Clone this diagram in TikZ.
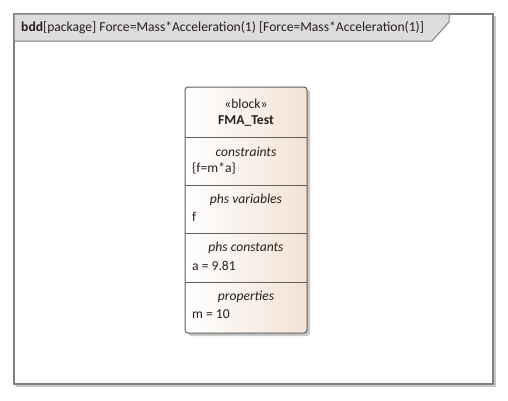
\documentclass[tikz,border=0pt]{standalone}
\usepackage{fontspec}
\setmainfont{Carlito}
\usetikzlibrary{positioning, calc}
\definecolor{framecolor}{RGB}{128,128,128}
\definecolor{shadowcolor}{RGB}{200,200,200}
\definecolor{headcolor}{RGB}{220,220,220}
\definecolor{blockcolor}{RGB}{242,226,212}
\definecolor{boxborder}{RGB}{96,96,96}
\definecolor{textcolor}{RGB}{40,30,30}
\tikzset{
    framebox/.style={draw=framecolor, line width=1.2pt},
    headtab/.style={draw=framecolor, line width=1pt, fill=headcolor},
    blockbox/.style={draw=boxborder, rounded corners=3pt, line width=1pt,
        left color=white, right color=blockcolor},
    sep/.style={draw=boxborder, line width=0.8pt},
    title/.style={font=\fontsize{13.6}{16}\selectfont, text=textcolor, inner sep=0pt},
    label/.style={font=\fontsize{13.6}{16}\selectfont\itshape, text=textcolor, inner sep=0pt},
    entry/.style={font=\fontsize{13.6}{16}\selectfont, text=textcolor, inner sep=0pt, anchor=west}
}

\begin{document}
\begin{tikzpicture}[x=1pt, y=-1pt]

    \useasboundingbox (0,0) rectangle (508,400);

    % diagram frame
    \draw[shadowcolor, line width=1.5pt] (16,386) -- (495,386) -- (495,16);
    \draw[framebox] (14,14) rectangle (493,384);
    \draw[headtab] (14,14) -- (449,14) -- (449,22) -- (432,41) -- (14,41) -- cycle;
    \node[title, anchor=west] (head) at (21,28)
        {\textbf{bdd}[package] Force=Mass*Acceleration(1) [Force=Mass*Acceleration(1)]};

    % block
    \fill[shadowcolor, rounded corners=3pt] (188,90) rectangle (310,336);
    \draw[blockbox] (185,87) rectangle (307,333);
    \foreach \y in {137,185,233,282}
        \draw[sep] (185,\y) -- (307,\y);

    \node[title] (stereo) at (246,104) {«block»};
    \node[title] (name) at (246,121) {\textbf{FMA\_Test}};

    \node[label] (cons) at (246,152) {constraints};
    \node[entry] (consv) at (192,169) {\{f=m*a\}};

    \node[label] (vars) at (246,200) {phs variables};
    \node[entry] (varsv) at (192,217) {f};

    \node[label] (consts) at (246,248) {phs constants};
    \node[entry] (constsv) at (192,266) {a = 9.81};

    \node[label] (props) at (246,297) {properties};
    \node[entry] (propsv) at (192,314) {m = 10};

\end{tikzpicture}
\end{document}
